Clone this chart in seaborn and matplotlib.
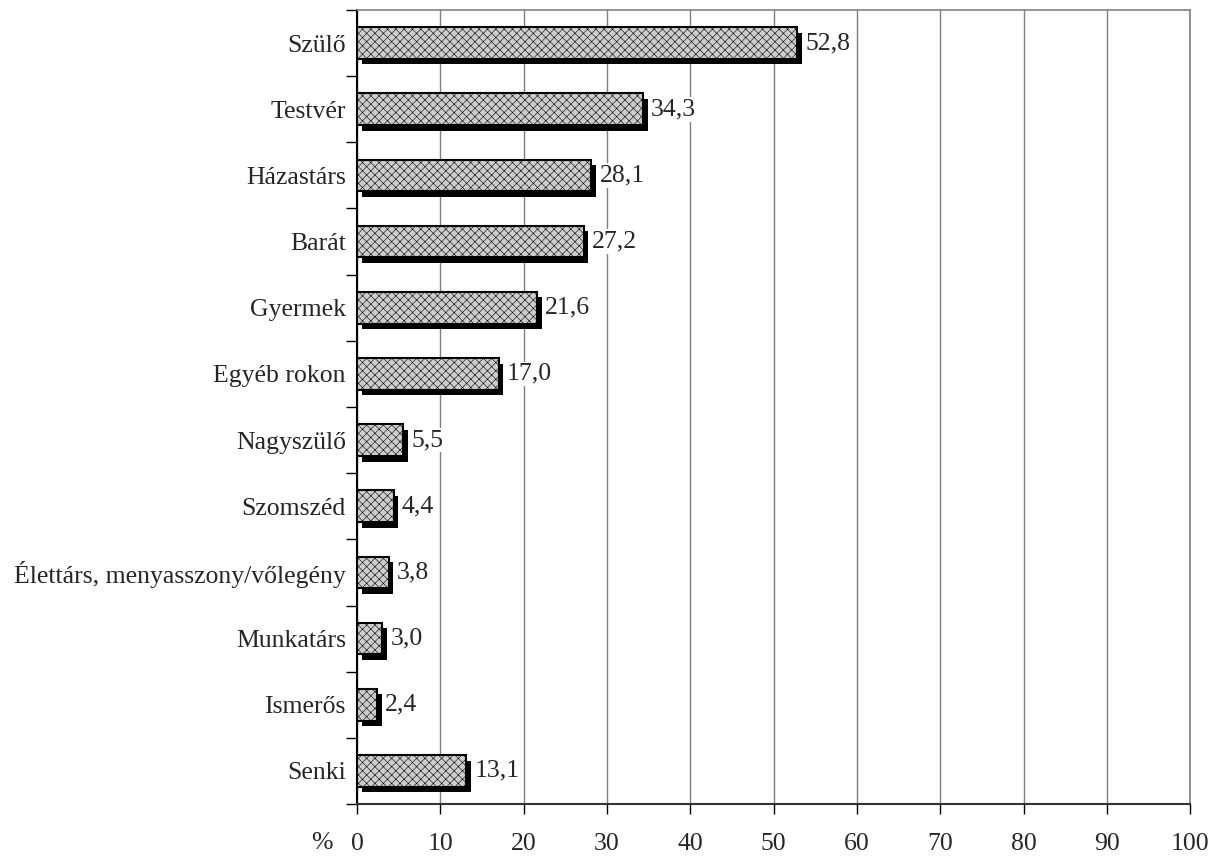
import numpy as np
import pandas as pd
import matplotlib
matplotlib.use('Agg')
import matplotlib.pyplot as plt
import matplotlib.patheffects as pe
from matplotlib.ticker import FixedLocator
import seaborn as sns

# Data
categories = ['Szülő', 'Testvér', 'Házastárs', 'Barát', 'Gyermek', 'Egyéb rokon',
              'Nagyszülő', 'Szomszéd', 'Élettárs, menyasszony/vőlegény',
              'Munkatárs', 'Ismerős', 'Senki']
values = [52.8, 34.3, 28.1, 27.2, 21.6, 17.0, 5.5, 4.4, 3.8, 3.0, 2.4, 13.1]
x_ticks = list(range(0, 101, 10))

df = pd.DataFrame({'category': categories, 'value': values})

sns.set_theme(style='white')
plt.rcParams['font.family'] = ['Liberation Serif', 'DejaVu Serif']
plt.rcParams['hatch.color'] = '#b4b4b4'
plt.rcParams['hatch.linewidth'] = 0.4

FS = 18.5

fig = plt.figure(figsize=(12.25, 8.59), dpi=100)
ax = fig.add_axes([0.2914, 0.064, 0.6804, 0.9244])

sns.barplot(data=df, x='value', y='category', orient='h', color='#cdcdcd',
            width=0.48, saturation=1, ax=ax, zorder=3)

shadow = [pe.SimplePatchShadow(offset=(3.4, -4.0), shadow_rgbFace='black', alpha=1),
          pe.Normal()]
for p in ax.patches:
    p.set_edgecolor('black')
    p.set_linewidth(1.5)
    p.set_hatch('xxxx')
    p.set_path_effects(shadow)

# value labels with white background, comma decimals
for i, v in enumerate(values):
    ax.annotate(f'{v:.1f}'.replace('.', ','), xy=(v, i), xytext=(6, 0),
                textcoords='offset points', ha='left', va='center',
                fontsize=FS, zorder=4,
                bbox=dict(boxstyle='square,pad=0.05', fc='white', ec='none'))

ax.set_xlim(0, 100)
ax.set_ylim(len(categories) - 0.5, -0.5)
ax.set_xticks(x_ticks)
ax.set_xticklabels([str(t) for t in x_ticks], fontsize=FS)
ax.set_xlabel('')
ax.set_ylabel('')
ax.tick_params(axis='x', which='major', direction='out', length=7, width=1,
               color='black', pad=14, bottom=True)
ax.tick_params(axis='y', which='major', length=0, pad=8)
ax.yaxis.set_minor_locator(FixedLocator(np.arange(-0.5, len(categories), 1.0)))
ax.tick_params(axis='y', which='minor', direction='out', length=8, width=1,
               color='black', left=True)
for lbl in ax.get_yticklabels():
    lbl.set_fontsize(FS)

ax.grid(axis='x', color='#7f7f7f', linewidth=1, zorder=0)
ax.grid(axis='y', visible=False)
ax.set_axisbelow(True)

ax.spines['left'].set_color('black')
ax.spines['left'].set_linewidth(1.5)
ax.spines['bottom'].set_color('#333333')
ax.spines['bottom'].set_linewidth(1.5)
ax.spines['top'].set_color('#808080')
ax.spines['right'].set_color('#808080')
ax.spines['top'].set_linewidth(1.2)
ax.spines['right'].set_linewidth(1.2)

ax.text(-0.042, -0.049, '%', transform=ax.transAxes, ha='center', va='center',
        fontsize=FS)

fig.savefig('out.png', dpi=100)
